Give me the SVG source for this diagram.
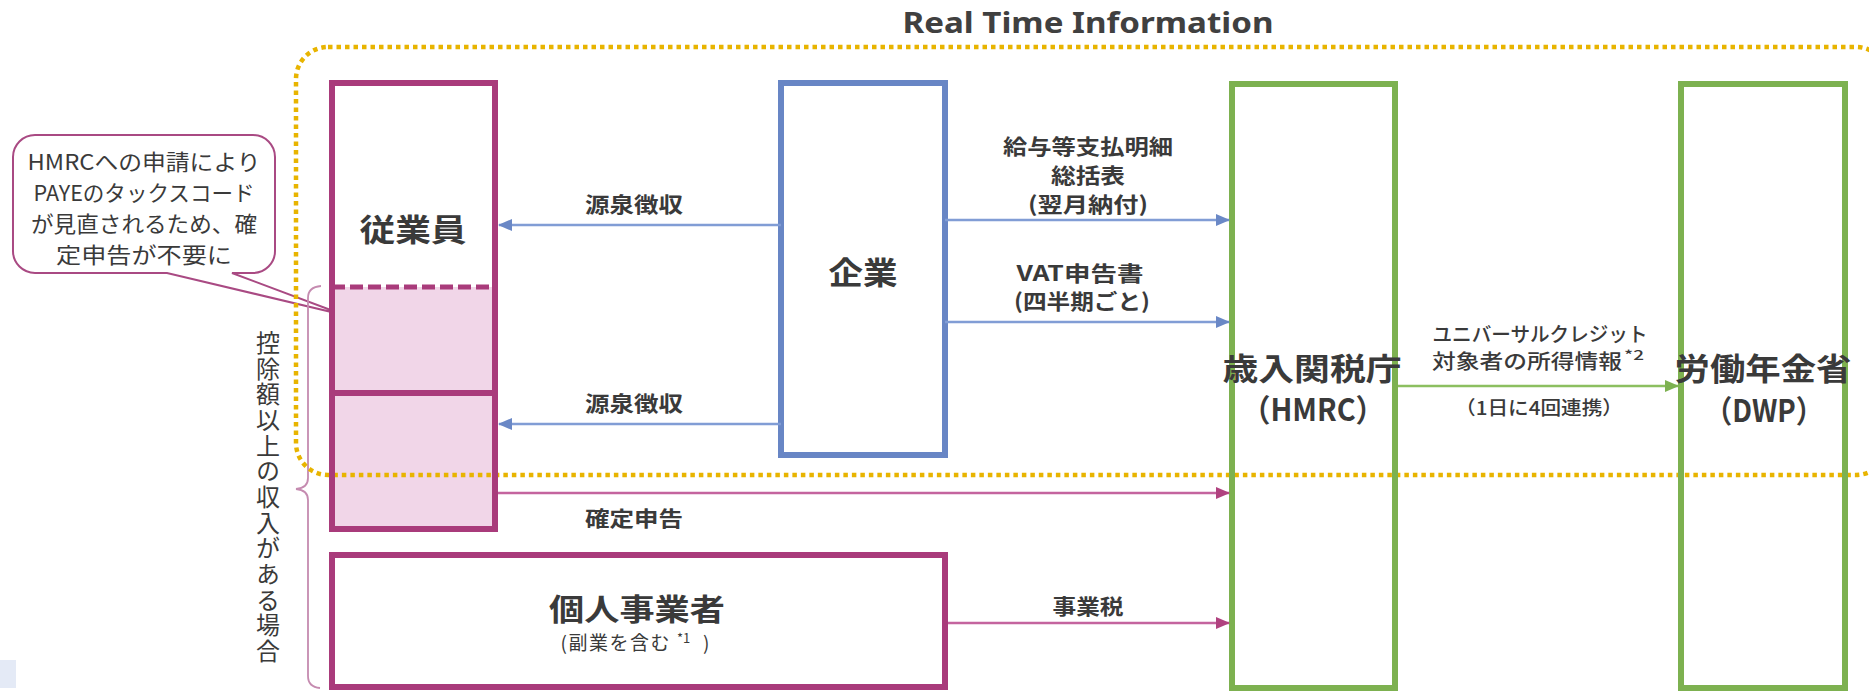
<svg xmlns="http://www.w3.org/2000/svg" width="1869" height="691" viewBox="0 0 1869 691">
<style>
  .jp { font-family: "Noto Sans CJK JP", "Noto Sans", "Liberation Sans", sans-serif; fill: #3a3a3a; }
  .title { font-family: "Noto Sans", "Liberation Sans", sans-serif; font-weight: bold; font-size: 29px; fill: #404040; }
  .big { font-size: 31px; font-weight: bold; }
  .lbl { font-size: 21px; font-weight: bold; }
  .note { font-size: 21.5px; font-weight: normal; }
  .sm { font-size: 20px; font-weight: 500; }
  .mag { fill: none; stroke: #a93b7b; stroke-width: 6; }
  .blu { fill: none; stroke: #6886c5; stroke-width: 6; }
  .grn { fill: none; stroke: #7db150; stroke-width: 6; }
  .arB { stroke: #819dd5; stroke-width: 2.5; fill: none; }
  .arM { stroke: #c4649e; stroke-width: 2.5; fill: none; }
  .arG { stroke: #8cbf60; stroke-width: 2.5; fill: none; }
</style>
<defs>
  <marker id="hB" markerUnits="userSpaceOnUse" markerWidth="14" markerHeight="12" refX="13" refY="6" orient="auto"><path d="M0,0 L14,6 L0,12 z" fill="#6a88c6"/></marker>
  <marker id="hM" markerUnits="userSpaceOnUse" markerWidth="14" markerHeight="12" refX="13" refY="6" orient="auto"><path d="M0,0 L14,6 L0,12 z" fill="#b0427f"/></marker>
  <marker id="hG" markerUnits="userSpaceOnUse" markerWidth="14" markerHeight="12" refX="13" refY="6" orient="auto"><path d="M0,0 L14,6 L0,12 z" fill="#7db150"/></marker>
</defs>
<rect width="1869" height="691" fill="#ffffff"/>
<rect x="0" y="660" width="16" height="28" fill="#e4eaf6"/>

<g id="callout">
  <path d="M35,135 H253 A22,22 0 0 1 275,157 V251 A22,22 0 0 1 253,273 H232 L344,315 L167,273 H35 A22,22 0 0 1 13,251 V157 A22,22 0 0 1 35,135 Z" fill="#ffffff" stroke="#a94a83" stroke-width="2"/>
  <text class="jp note" x="144" y="160" text-anchor="middle" dominant-baseline="central" textLength="233" lengthAdjust="spacingAndGlyphs">HMRCへの申請により</text>
  <text class="jp note" x="144" y="191" text-anchor="middle" dominant-baseline="central" textLength="221" lengthAdjust="spacingAndGlyphs">PAYEのタックスコード</text>
  <text class="jp note" x="144" y="222" text-anchor="middle" dominant-baseline="central" textLength="226" lengthAdjust="spacingAndGlyphs">が見直されるため、確</text>
  <text class="jp note" x="144" y="253" text-anchor="middle" dominant-baseline="central" textLength="176" lengthAdjust="spacingAndGlyphs">定申告が不要に</text>
</g>

<g id="brace">
  <path d="M321,286 Q308,287 308,298 V478 Q308,488 296,489 Q308,490 308,500 V676 Q308,687 320,688" fill="none" stroke="#c58bb0" stroke-width="1.8"/>
  <text class="jp" x="268" y="331" style="writing-mode: vertical-rl; font-size: 24px;" textLength="332" lengthAdjust="spacing">控除額以上の収入がある場合</text>
</g>

<g id="employee">
  <rect x="332" y="287" width="163" height="242" fill="#f1d6e8"/>
</g>

<g id="rti">
  <rect x="296" y="47" width="1592" height="428" rx="32" ry="32" fill="none" stroke="#e8b400" stroke-width="4.5" stroke-dasharray="4.5 4"/>
  <text class="title" x="1088" y="33" text-anchor="middle" textLength="371" lengthAdjust="spacingAndGlyphs">Real Time Information</text>
</g>

<g id="employee-frame">
  <rect class="mag" x="332" y="83" width="163" height="446"/>
  <line x1="332" y1="287" x2="495" y2="287" stroke="#a93b7b" stroke-width="5" stroke-dasharray="13 5"/>
  <line x1="332" y1="393" x2="495" y2="393" stroke="#a93b7b" stroke-width="6"/>
  <text class="jp big" x="413" y="227" text-anchor="middle" dominant-baseline="central" textLength="107" lengthAdjust="spacingAndGlyphs">従業員</text>
</g>

<g id="company">
  <rect class="blu" x="781" y="83" width="164" height="372" fill="#ffffff"/>
  <text class="jp big" x="863" y="270" text-anchor="middle" dominant-baseline="central" textLength="69" lengthAdjust="spacingAndGlyphs">企業</text>
</g>

<g id="self-employed">
  <rect class="mag" x="332" y="555" width="613" height="132" fill="#ffffff"/>
  <text class="jp" x="637" y="607" text-anchor="middle" dominant-baseline="central" style="font-size:30px; font-weight:bold" textLength="176" lengthAdjust="spacingAndGlyphs">個人事業者</text>
  <text class="jp" x="671" y="650" text-anchor="end" style="font-size:19px; letter-spacing:1.5px">(副業を含む</text>
  <text class="jp" x="677" y="643" style="font-size:13px">*1</text>
  <text class="jp" x="703" y="650" style="font-size:19px">)</text>
</g>

<g id="hmrc">
  <rect class="grn" x="1232" y="84" width="163" height="604" fill="none"/>
  <text class="jp big" x="1312" y="366" text-anchor="middle" dominant-baseline="central" textLength="179" lengthAdjust="spacingAndGlyphs">歳入関税庁</text>
  <text class="jp big" x="1313" y="407" text-anchor="middle" dominant-baseline="central" textLength="143" lengthAdjust="spacingAndGlyphs">（HMRC）</text>
</g>

<g id="dwp">
  <rect class="grn" x="1681" y="84" width="164" height="604" fill="none"/>
  <text class="jp big" x="1763" y="366" text-anchor="middle" dominant-baseline="central" textLength="177" lengthAdjust="spacingAndGlyphs">労働年金省</text>
  <text class="jp big" x="1764" y="408" text-anchor="middle" dominant-baseline="central" textLength="119" lengthAdjust="spacingAndGlyphs">（DWP）</text>
</g>

<g id="connectors">
  <line class="arB" x1="781" y1="225" x2="499" y2="225" marker-end="url(#hB)"/>
  <line class="arB" x1="781" y1="424" x2="499" y2="424" marker-end="url(#hB)"/>
  <line class="arB" x1="945" y1="220" x2="1229" y2="220" marker-end="url(#hB)"/>
  <line class="arB" x1="945" y1="322" x2="1229" y2="322" marker-end="url(#hB)"/>
  <line class="arM" x1="498" y1="493" x2="1229" y2="493" marker-end="url(#hM)"/>
  <line class="arM" x1="948" y1="623" x2="1229" y2="623" marker-end="url(#hM)"/>
  <line class="arG" x1="1398" y1="386" x2="1678" y2="386" marker-end="url(#hG)"/>

  <text class="jp lbl" x="634" y="203" text-anchor="middle" dominant-baseline="central" textLength="98" lengthAdjust="spacingAndGlyphs">源泉徴収</text>
  <text class="jp lbl" x="634" y="402" text-anchor="middle" dominant-baseline="central" textLength="98" lengthAdjust="spacingAndGlyphs">源泉徴収</text>
  <text class="jp lbl" x="634" y="517" text-anchor="middle" dominant-baseline="central" textLength="98" lengthAdjust="spacingAndGlyphs">確定申告</text>
  <text class="jp lbl" x="1088" y="145" text-anchor="middle" dominant-baseline="central" textLength="170" lengthAdjust="spacingAndGlyphs">給与等支払明細</text>
  <text class="jp lbl" x="1088" y="174" text-anchor="middle" dominant-baseline="central" textLength="74" lengthAdjust="spacingAndGlyphs">総括表</text>
  <text class="jp lbl" x="1088" y="203" text-anchor="middle" dominant-baseline="central" textLength="120" lengthAdjust="spacingAndGlyphs">(翌月納付)</text>
  <text class="jp lbl" x="1080" y="272" text-anchor="middle" dominant-baseline="central" textLength="127" lengthAdjust="spacingAndGlyphs">VAT申告書</text>
  <text class="jp lbl" x="1082" y="300" text-anchor="middle" dominant-baseline="central" textLength="136" lengthAdjust="spacingAndGlyphs">(四半期ごと)</text>
  <text class="jp lbl" x="1088" y="605" text-anchor="middle" dominant-baseline="central" textLength="71" lengthAdjust="spacingAndGlyphs">事業税</text>
  <text class="jp sm" x="1540" y="333" text-anchor="middle" dominant-baseline="central" textLength="215" lengthAdjust="spacingAndGlyphs">ユニバーサルクレジット</text>
  <text class="jp sm" x="1527" y="360" text-anchor="middle" dominant-baseline="central" textLength="190" lengthAdjust="spacingAndGlyphs">対象者の所得情報</text>
  <text class="jp" x="1624" y="354" dominant-baseline="central" style="font-size:13px; font-weight:500" textLength="20" lengthAdjust="spacingAndGlyphs">*2</text>
  <text class="jp" x="1539" y="406" text-anchor="middle" dominant-baseline="central" style="font-size:19px; font-weight:500" textLength="168" lengthAdjust="spacingAndGlyphs">（1日に4回連携）</text>
</g>
</svg>
